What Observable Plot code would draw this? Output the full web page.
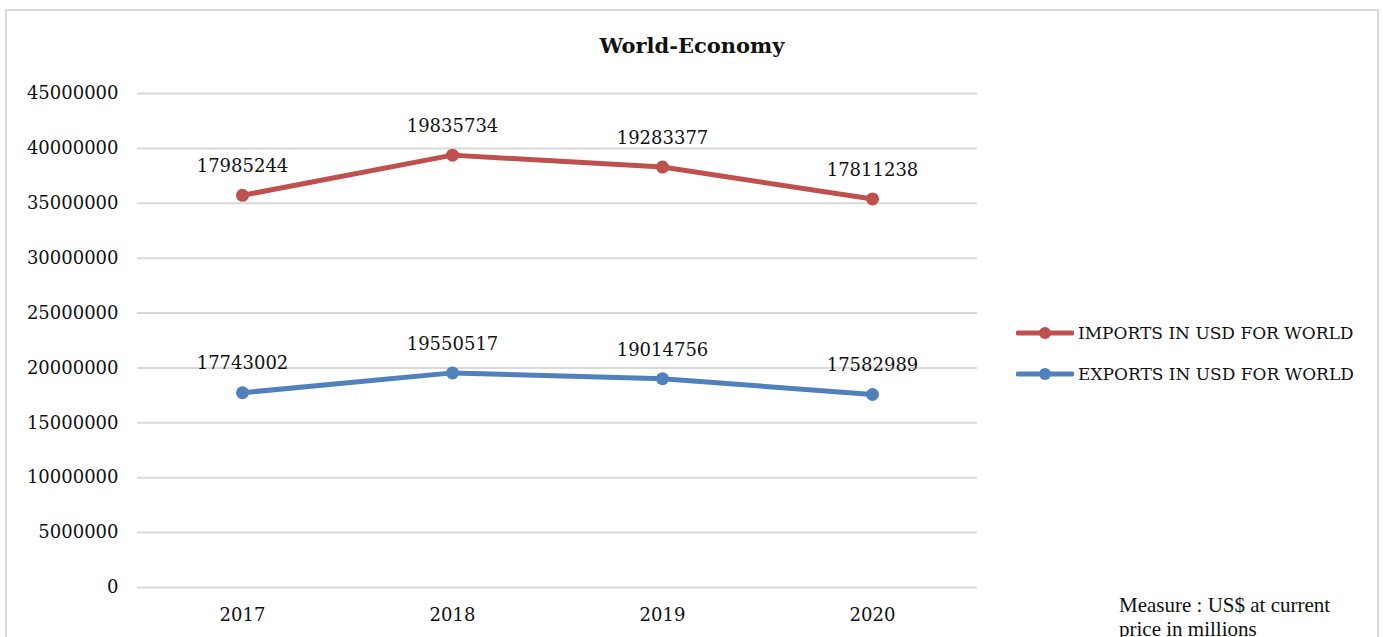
<!DOCTYPE html>
<html><head><meta charset="utf-8">
<script src="https://cdn.jsdelivr.net/npm/d3@7"></script>
<script src="https://cdn.jsdelivr.net/npm/@observablehq/plot@0.6"></script>
<style>
body{margin:0;background:#fff;}
#wrap{position:relative;width:1383px;height:637px;overflow:hidden;font-family:"DejaVu Serif",serif;color:#111;}
#frame{position:absolute;left:5px;top:9px;width:1374px;height:700px;border:2px solid #d9d9d9;box-sizing:border-box;}
#chart{position:absolute;left:0;top:0;}
#title{position:absolute;left:6px;width:1372px;top:32px;text-align:center;font-weight:bold;font-size:21px;line-height:28px;}
#legend{position:absolute;left:1016px;top:312px;font-size:17px;}
.item{display:flex;align-items:center;height:41px;}
.item svg{margin-right:4px;}
#measure{position:absolute;left:1119px;top:593px;font-family:"Liberation Serif",serif;font-size:21px;line-height:24px;width:240px;}
</style></head>
<body>
<div id="wrap">
  <div id="frame"></div>
  <div id="chart"></div>
  <div id="title">World-Economy</div>
  <div id="legend"></div>
  <div id="measure">Measure : US$ at current price in millions</div>
</div>
<script>
const years = ["2017", "2018", "2019", "2020"];
const exportsValues = [17743002, 19550517, 19014756, 17582989];
const importsValues = [17985244, 19835734, 19283377, 17811238];
const seriesNames = ["EXPORTS IN USD FOR WORLD", "IMPORTS IN USD FOR WORLD"];
const seriesColors = ["#4f81bd", "#c0504d"];
const yTicks = [0, 5000000, 10000000, 15000000, 20000000, 25000000, 30000000, 35000000, 40000000, 45000000];
const legendOrder = ["IMPORTS IN USD FOR WORLD", "EXPORTS IN USD FOR WORLD"];

const data = [];
years.forEach((y, i) => {
  data.push({year: y, series: seriesNames[0], value: exportsValues[i]});
  data.push({year: y, series: seriesNames[1], value: importsValues[i]});
});

const stacked = (extra) => Plot.stackY2({x: "year", y: "value", z: "series", order: seriesNames, ...extra});

const chart = Plot.plot({
  width: 1383,
  height: 637,
  marginLeft: 137,
  marginRight: 406,
  marginTop: 93,
  marginBottom: 50,
  style: {fontFamily: "DejaVu Serif, serif", fontSize: "18px", color: "#111", background: "transparent"},
  x: {type: "point", domain: years, padding: 0.5, label: null, tickSize: 0, tickPadding: 21},
  y: {domain: [0, 45000000], ticks: yTicks, tickFormat: d => String(d), label: null, tickSize: 0, tickPadding: 19},
  color: {domain: seriesNames, range: seriesColors},
  marks: [
    Plot.ruleY(yTicks, {stroke: "#d9d9d9", strokeWidth: 2}),
    Plot.line(data, stacked({stroke: "series", strokeWidth: 5, curve: "linear"})),
    Plot.dot(data, stacked({fill: "series", r: 6.5, stroke: null})),
    Plot.text(data, stacked({text: d => String(d.value), dy: -29, fill: "#111", fontSize: 18}))
  ]
});
document.getElementById("chart").appendChild(chart);

const legend = document.getElementById("legend");
legendOrder.forEach(name => {
  const c = seriesColors[seriesNames.indexOf(name)];
  const div = document.createElement("div");
  div.className = "item";
  div.innerHTML = `<svg width="58" height="14"><line x1="2" y1="7" x2="56" y2="7" stroke="${c}" stroke-width="5" stroke-linecap="round"/><circle cx="29" cy="7" r="6" fill="${c}"/></svg><span>${name}</span>`;
  legend.appendChild(div);
});
</script>
</body></html>
